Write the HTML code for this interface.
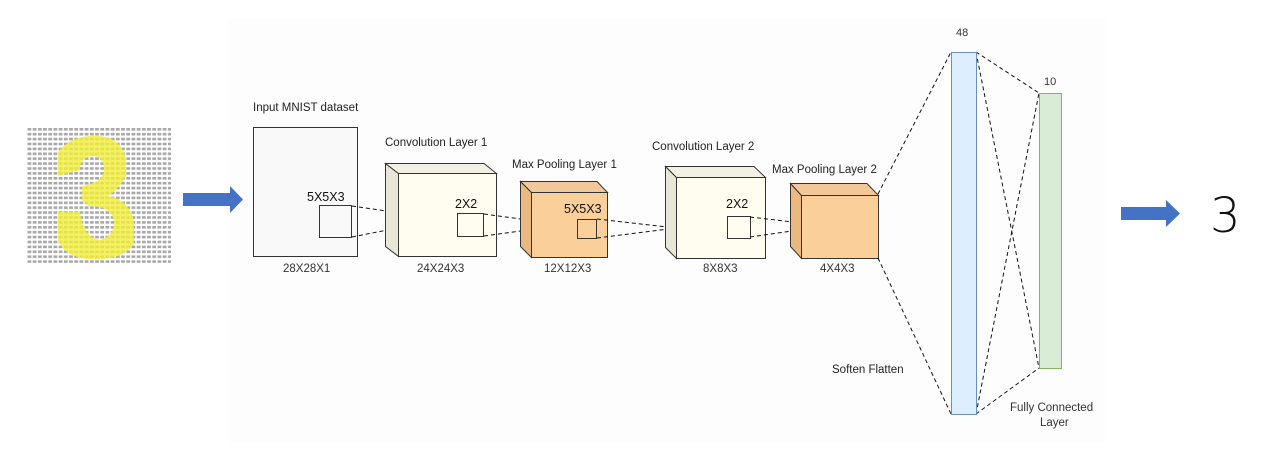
<!DOCTYPE html>
<html><head><meta charset="utf-8"><style>
body{margin:0;background:#fff;}
svg{display:block;font-family:"Liberation Sans",sans-serif;}
</style></head><body>
<svg width="1280" height="453" viewBox="0 0 1280 453" xmlns="http://www.w3.org/2000/svg">
<defs>
<pattern id="g" x="27" y="127" width="5.2" height="4.9" patternUnits="userSpaceOnUse">
<rect x="0.5" y="1" width="3.8" height="2.6" fill="#a8a8a8"/>
</pattern>
</defs>
<rect x="228" y="18" width="877" height="425" fill="#fdfdfd"/>
<!-- MNIST image -->
<rect x="27" y="127" width="144" height="136" fill="url(#g)"/>
<path d="M58,152 Q72,134 100,136 Q122,138 126,160 L126,176 Q118,190 108,196 Q130,200 134,222 L134,244 Q124,258 102,259 L86,259 Q64,256 58,240 L58,212 L80,212 Q84,238 100,240 Q114,236 114,222 Q112,206 88,206 L82,200 L82,186 Q104,182 104,170 Q104,156 92,156 Q80,158 80,170 L58,176 Z" fill="#f2ef3a" opacity="0.8"/>
<!-- left arrow -->
<polygon points="183,193 230,193 230,186 243,199.5 230,213 230,206 183,206" fill="#4472c4"/>
<!-- input square -->
<text x="253" y="111" font-size="11.5" fill="#222">Input MNIST dataset</text>
<rect x="253.5" y="127.5" width="104" height="129" fill="#f9f9f9" stroke="#333"/>
<rect x="319.5" y="205.5" width="32" height="32" fill="none" stroke="#333"/>
<text x="307" y="201" font-size="12.5" fill="#111">5X5X3</text>
<text x="283" y="272" font-size="11.5" fill="#333">28X28X1</text>
<g stroke="#111" stroke-dasharray="4,3" fill="none">
<line x1="352" y1="206" x2="428" y2="217"/><line x1="352" y1="237" x2="428" y2="222"/>
</g>
<!-- conv1 -->
<text x="385" y="146" font-size="11.5" fill="#222">Convolution Layer 1</text>
<polygon points="385.5,163.5 398.5,173.5 398.5,256.5 385.5,246.5" fill="#e8e6d6" stroke="#333"/>
<polygon points="385.5,163.5 484,163.5 496.5,173.5 398.5,173.5" fill="#f3f1e3" stroke="#333"/>
<rect x="398.5" y="173.5" width="98" height="83" fill="#fffdf0" stroke="#333"/>
<rect x="457.5" y="213.5" width="26" height="23" fill="none" stroke="#333"/>
<text x="455" y="208" font-size="12.5" fill="#111">2X2</text>
<text x="417" y="272" font-size="11.5" fill="#333">24X24X3</text>
<g stroke="#111" stroke-dasharray="4,3" fill="none">
<line x1="484" y1="214" x2="557" y2="224"/><line x1="484" y1="236" x2="557" y2="226"/>
</g>
<!-- pool1 -->
<text x="512" y="168" font-size="11.5" fill="#222">Max Pooling Layer 1</text>
<polygon points="520.5,181.5 531.5,192.5 531.5,257.5 520.5,246.5" fill="#e9b980" stroke="#333"/>
<polygon points="520.5,181.5 597,181.5 607.5,192.5 531.5,192.5" fill="#f3c898" stroke="#333"/>
<rect x="531.5" y="192.5" width="76" height="65" fill="#fbcf9a" stroke="#333"/>
<rect x="577.5" y="219.5" width="19" height="19" fill="none" stroke="#333"/>
<text x="564" y="213" font-size="12.5" fill="#111">5X5X3</text>
<text x="544" y="272" font-size="11.5" fill="#333">12X12X3</text>
<g stroke="#111" stroke-dasharray="4,3" fill="none">
<line x1="597" y1="219" x2="676" y2="228"/><line x1="597" y1="238" x2="676" y2="228"/>
</g>
<!-- conv2 -->
<text x="652" y="150" font-size="11.5" fill="#222">Convolution Layer 2</text>
<polygon points="665.5,166.5 676.5,177.5 676.5,258.5 665.5,247.5" fill="#e8e6d6" stroke="#333"/>
<polygon points="665.5,166.5 754,166.5 765.5,177.5 676.5,177.5" fill="#f3f1e3" stroke="#333"/>
<rect x="676.5" y="177.5" width="89" height="81" fill="#fffdf0" stroke="#333"/>
<rect x="727.5" y="216.5" width="23" height="22" fill="none" stroke="#333"/>
<text x="726" y="208" font-size="12.5" fill="#111">2X2</text>
<text x="703" y="272" font-size="11.5" fill="#333">8X8X3</text>
<g stroke="#111" stroke-dasharray="4,3" fill="none">
<line x1="750" y1="217" x2="827" y2="226"/><line x1="750" y1="237" x2="827" y2="226"/>
</g>
<!-- pool2 -->
<text x="772" y="173" font-size="11.5" fill="#222">Max Pooling Layer 2</text>
<polygon points="790.5,183.5 801.5,195.5 801.5,258.5 790.5,246.5" fill="#e9b980" stroke="#333"/>
<polygon points="790.5,183.5 867,183.5 878.5,195.5 801.5,195.5" fill="#f3c898" stroke="#333"/>
<rect x="801.5" y="195.5" width="77" height="63" fill="#fbcf9a" stroke="#333"/>
<text x="820" y="272" font-size="11.5" fill="#333">4X4X3</text>
<!-- FC connections -->
<g stroke="#111" stroke-dasharray="4,3" fill="none">
<line x1="878" y1="194" x2="951" y2="52"/><line x1="878" y1="258" x2="951" y2="414"/>
<line x1="976" y1="52" x2="1039" y2="93"/><line x1="976" y1="52" x2="1039" y2="368"/>
<line x1="976" y1="414" x2="1039" y2="93"/><line x1="976" y1="414" x2="1039" y2="368"/>
</g>
<rect x="951.5" y="52.5" width="25" height="362" fill="#ddeeff" stroke="#6c8ebf"/>
<rect x="1039.5" y="93.5" width="22" height="275" fill="#d9ecd5" stroke="#82b366"/>
<text x="956" y="36" font-size="11" fill="#333">48</text>
<text x="1044" y="85" font-size="11" fill="#333">10</text>
<text x="832" y="373" font-size="11.5" fill="#222">Soften Flatten</text>
<text x="1010" y="411" font-size="11.5" fill="#333">Fully Connected</text>
<text x="1040" y="426" font-size="11.5" fill="#333">Layer</text>
<!-- right arrow -->
<polygon points="1121,207 1166,207 1166,200 1180,213.5 1166,227 1166,220 1121,220" fill="#4472c4"/>
<text x="1210" y="232" font-size="48" fill="#111" font-family="DejaVu Sans, sans-serif" font-weight="300">3</text>
</svg>
</body></html>
